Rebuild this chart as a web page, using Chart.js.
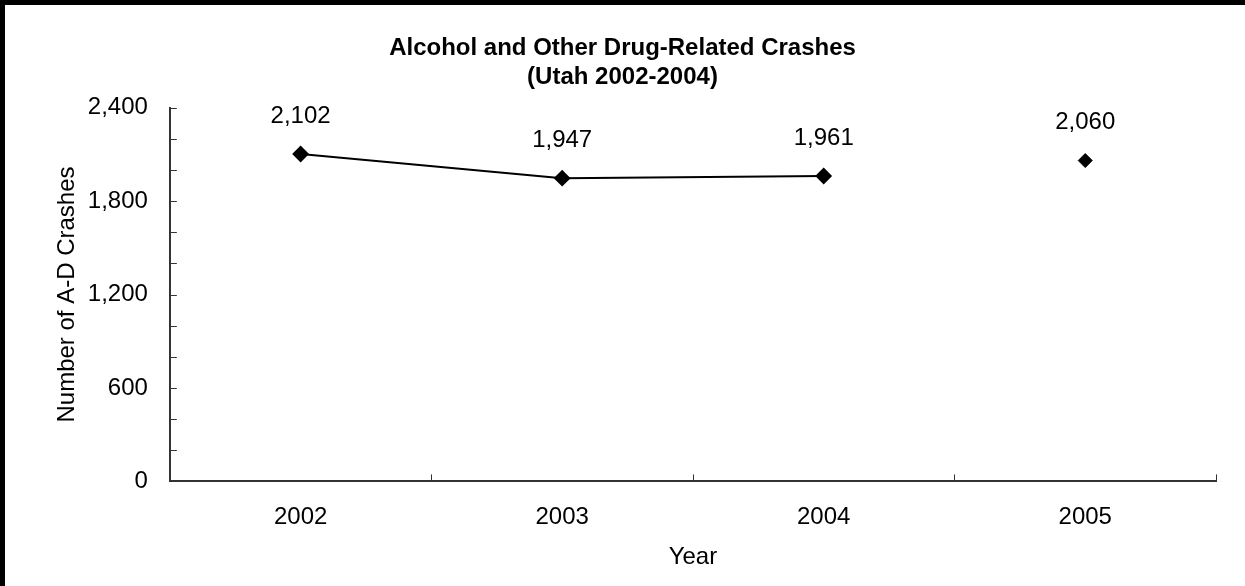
<!DOCTYPE html>
<html>
<head>
<meta charset="utf-8">
<script src="https://cdn.jsdelivr.net/npm/chart.js@4/dist/chart.umd.min.js"></script>
<style>
  html, body { margin: 0; padding: 0; background: #fff; }
  #wrap {
    position: absolute; left: 0; top: 0;
    width: 1245px; height: 586px; box-sizing: border-box;
    border-top: 5px solid #000; border-left: 5px solid #000;
  }
  #wrap canvas { display: block; }
</style>
</head>
<body>
<div id="wrap"><canvas id="myChart" width="1240" height="581"></canvas></div>
<script>
// chart data
var years = ['2002', '2003', '2004', '2005'];
var crashes = [2102, 1947, 1961, null];      // joined by a line
var crashes2005 = [null, null, null, 2060];  // separate point
var yTicks = [0, 600, 1200, 1800, 2400];

Chart.defaults.font.family = '"Liberation Sans", Arial, sans-serif';
Chart.defaults.color = '#000';

var FONT = 24;

function fmt(v) {
    return v.toLocaleString('en-US');
}

// value labels above each point
var pointLabels = {
    id: 'pointLabels',
    afterDatasetsDraw: function(chart) {
        var ctx = chart.ctx;
        ctx.save();
        ctx.font = FONT + 'px "Liberation Sans", Arial, sans-serif';
        ctx.fillStyle = '#000';
        ctx.textAlign = 'center';
        ctx.textBaseline = 'middle';
        chart.data.datasets.forEach(function(ds, i) {
            var meta = chart.getDatasetMeta(i);
            meta.data.forEach(function(pt, j) {
                if (ds.data[j] == null) return;
                ctx.fillText(fmt(ds.data[j]), pt.x, pt.y - 38);
            });
        });
        ctx.restore();
    }
};

// tick marks pointing into the plot, like the original
var innerTicks = {
    id: 'innerTicks',
    afterDraw: function(chart) {
        var ctx = chart.ctx;
        var area = chart.chartArea;
        var x = chart.scales.x, y = chart.scales.y;
        ctx.save();
        ctx.strokeStyle = '#333';
        ctx.lineWidth = 1;
        for (var v = 0; v <= 2400; v += 200) {
            var py = Math.round(y.getPixelForValue(v)) + 0.5;
            ctx.beginPath();
            ctx.moveTo(area.left, py);
            ctx.lineTo(area.left + 7, py);
            ctx.stroke();
        }
        for (var i = 0; i <= years.length; i++) {
            var px = Math.round(x.getPixelForValue(i - 0.5)) + 0.5;
            ctx.beginPath();
            ctx.moveTo(px, area.bottom);
            ctx.lineTo(px, area.bottom - 7);
            ctx.stroke();
        }
        ctx.restore();
    }
};

var ctx = document.getElementById('myChart').getContext('2d');
var chart = new Chart(ctx, {
    type: 'line',
    data: {
        labels: years,
        datasets: [{
            label: 'A-D Crashes',
            data: crashes,
            borderColor: '#000',
            backgroundColor: '#000',
            borderWidth: 2,
            pointStyle: 'rectRot',
            pointRadius: 7,
            pointHoverRadius: 7,
            spanGaps: false
        }, {
            label: 'A-D Crashes 2005',
            data: crashes2005,
            borderColor: '#000',
            backgroundColor: '#000',
            showLine: false,
            pointStyle: 'rectRot',
            pointRadius: 7,
            pointHoverRadius: 7
        }]
    },
    options: {
        responsive: false,
        animation: false,
        layout: { padding: { left: 24, right: 29, top: 0, bottom: 14 } },
        plugins: {
            legend: { display: false },
            tooltip: { enabled: false },
            title: {
                display: true,
                text: ['Alcohol and Other Drug-Related Crashes', '(Utah 2002-2004)'],
                font: { size: FONT, weight: 'bold' },
                lineHeight: 1.08,
                color: '#000',
                padding: { top: 29, bottom: 16 }
            }
        },
        scales: {
            x: {
                offset: true,
                // ticks drawn by innerTicks; tickLength only reserves space
                grid: { display: false, drawTicks: true, tickLength: 18 },
                border: { display: true, color: '#333', width: 2 },
                ticks: { font: { size: FONT }, padding: 4, color: '#000' },
                title: { display: true, text: 'Year', font: { size: FONT }, color: '#000', padding: { top: 7, bottom: 0 } }
            },
            y: {
                min: 0,
                max: 2400,
                afterBuildTicks: function(axis) {
                    axis.ticks = yTicks.map(function(v) { return { value: v }; });
                },
                grid: { display: false, drawTicks: true, tickLength: 18 },
                border: { display: true, color: '#333', width: 2 },
                ticks: {
                    font: { size: FONT },
                    padding: 4,
                    color: '#000',
                    callback: function(v) { return fmt(v); }
                },
                title: { display: true, text: 'Number of A-D Crashes', font: { size: FONT }, color: '#000', padding: { top: 24, bottom: 2 } }
            }
        }
    },
    plugins: [pointLabels, innerTicks]
});
</script>
</body>
</html>
